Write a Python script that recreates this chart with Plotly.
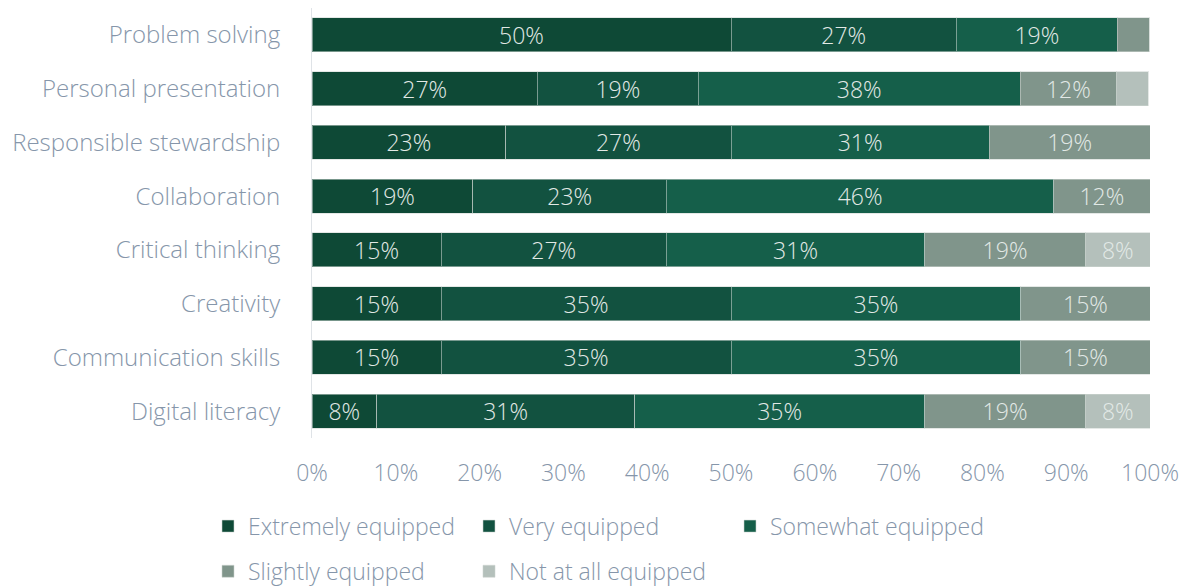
import plotly.graph_objects as go

# Skills, top to bottom
skills = [
    "Problem solving",
    "Personal presentation",
    "Responsible stewardship",
    "Collaboration",
    "Critical thinking",
    "Creativity",
    "Communication skills",
    "Digital literacy",
]

# Share of respondents (%) per rating, one list per skill order above
extremely = [50.0, 26.9, 23.1, 19.2, 15.4, 15.4, 15.4, 7.7]
very = [26.9, 19.2, 26.9, 23.1, 26.9, 34.6, 34.6, 30.8]
somewhat = [19.2, 38.4, 30.8, 46.2, 30.8, 34.6, 34.6, 34.6]
slightly = [3.8, 11.5, 19.2, 11.5, 19.2, 15.4, 15.4, 19.2]
not_at_all = [0.0, 3.8, 0.0, 0.0, 7.7, 0.0, 0.0, 7.7]

series = [
    ("Extremely equipped", extremely, "#0e4936", "legend"),
    ("Very equipped", very, "#125240", "legend"),
    ("Somewhat equipped", somewhat, "#155f4a", "legend"),
    ("Slightly equipped", slightly, "#80958b", "legend2"),
    ("Not at all equipped", not_at_all, "#b4c0bb", "legend2"),
]

FONT = "'Open Sans', Lato, sans-serif"
LABEL_COLOR = "#8696aa"

fig = go.Figure()
for name, values, color, legend in series:
    labels = [f"{v:.0f}%" if v >= 5 else "" for v in values]
    fig.add_trace(go.Bar(
        name=name,
        y=skills,
        x=values,
        orientation="h",
        marker=dict(color=color, line=dict(color="rgba(205,214,210,0.55)", width=1)),
        text=labels,
        texttemplate="%{text}",
        textposition="inside",
        insidetextanchor="middle",
        textangle=0,
        constraintext="none",
        textfont=dict(family=FONT, size=23, weight=300, color="#e2e9e6"),
        legend=legend,
        hoverinfo="skip",
    ))

PLOT_W = 1186 - 312 - 36
legend_x = (208 - 312) / PLOT_W

legend_common = dict(
    orientation="h",
    xref="paper",
    yref="paper",
    yanchor="middle",
    xanchor="left",
    x=legend_x,
    entrywidth=216,
    entrywidthmode="pixels",
    font=dict(family=FONT, size=23, weight=300, color=LABEL_COLOR),
    bgcolor="rgba(0,0,0,0)",
    traceorder="normal",
    itemclick=False,
    itemdoubleclick=False,
)

fig.update_layout(
    barmode="stack",
    bargap=0.367,
    width=1186,
    height=587,
    margin=dict(l=312, r=36, t=8, b=149, autoexpand=False),
    paper_bgcolor="white",
    plot_bgcolor="white",
    font=dict(family=FONT, color=LABEL_COLOR),
    xaxis=dict(
        range=[0, 100],
        tickvals=list(range(0, 101, 10)),
        ticktext=[f"{v}%" for v in range(0, 101, 10)],
        showgrid=False,
        zeroline=False,
        showline=False,
        ticks="",
        ticklabelstandoff=19,
        tickfont=dict(family=FONT, size=23, weight=300, color=LABEL_COLOR),
    ),
    yaxis=dict(
        categoryorder="array",
        categoryarray=skills,
        autorange="reversed",
        showgrid=False,
        zeroline=False,
        showline=True,
        linecolor="#dfe3e7",
        linewidth=1,
        ticks="",
        ticklabelstandoff=26,
        tickfont=dict(family=FONT, size=24, weight=300, color=LABEL_COLOR),
    ),
    legend=dict(legend_common, y=-0.205),
    legend2=dict(legend_common, y=-0.31),
    showlegend=True,
)

fig.write_html("out.html")
